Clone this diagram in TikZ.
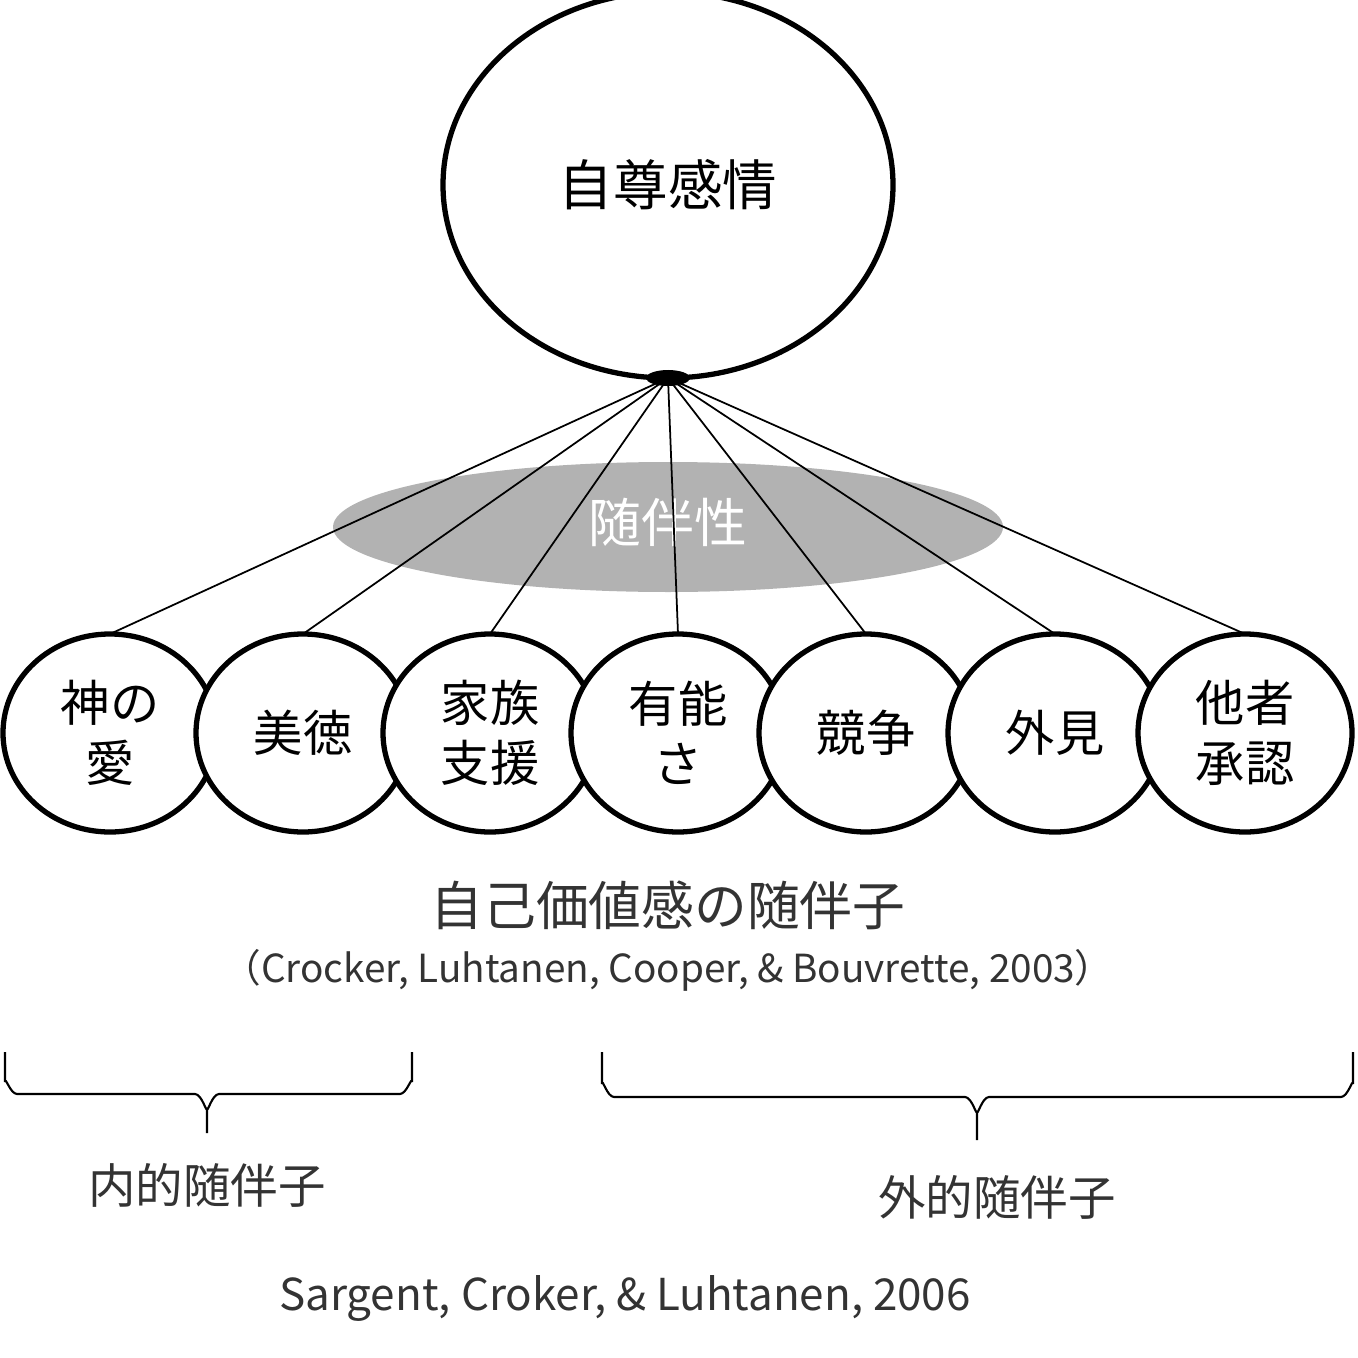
\documentclass[tikz,border=0pt]{standalone}
\usepackage{fontspec}
\setmainfont{Noto Sans CJK JP}
\begin{document}
\begin{tikzpicture}[x=0.01cm,y=-0.01cm,
  small/.style={draw,line width=1.3pt,fill=white,ellipse,minimum width=216\pgflinewidth},
  lbl/.style={font=\fontsize{14}{17}\selectfont,align=center,text=black}]
\useasboundingbox (0,0) rectangle (1358,1358);
\fill[gray!60] (668,527) ellipse [x radius=335, y radius=65];
\node[text=white,font=\fontsize{15}{18}\selectfont] (zui) at (668,522) {随伴性};
\draw[line width=1.5pt,fill=white] (668,185) ellipse [x radius=225, y radius=193];
\node[font=\fontsize{15.5}{18}\selectfont] (top) at (668,185) {自尊感情};
\coordinate (p) at (668,378);
\foreach \x/\t [count=\i] in {110/{神の\\愛},303/{美徳},490/{家族\\支援},678/{有能\\さ},866/{競争},1055/{外見},1245/{他者\\承認}}{
  \draw[line width=1.5pt,fill=white] (\x,733) ellipse [x radius=107, y radius=99];
  \node[lbl] (c\i) at (\x,733) {\t};
  \coordinate (t\i) at (\x,634);
  \draw[line width=0.5pt] (p) -- (t\i);
}
\fill (p) ellipse [x radius=22, y radius=8];
\node[font=\fontsize{15}{18}\selectfont,text=black!80] (h) at (668,905) {自己価値感の随伴子};
\node[font=\fontsize{11}{13}\selectfont,text=black!80] (cit) at (668,970) {（Crocker, Luhtanen, Cooper, \& Bouvrette, 2003）};
\draw[line width=0.6pt] (5,1052) -- (5,1082) to[out=90,in=180] (17,1094) -- (195,1094) to[out=0,in=-90] (207,1108) -- (207,1133);
\draw[line width=0.6pt] (412,1052) -- (412,1082) to[out=90,in=0] (400,1094) -- (219,1094) to[out=180,in=-90] (207,1108);
\draw[line width=0.6pt] (602,1052) -- (602,1084) to[out=90,in=180] (614,1097) -- (965,1097) to[out=0,in=-90] (977,1111) -- (977,1140);
\draw[line width=0.6pt] (1353,1052) -- (1353,1084) to[out=90,in=0] (1341,1097) -- (989,1097) to[out=180,in=-90] (977,1111);
\node[font=\fontsize{13.5}{16}\selectfont,text=black!80] (in) at (207,1185) {内的随伴子};
\node[font=\fontsize{13.5}{16}\selectfont,text=black!80] (out) at (997,1197) {外的随伴子};
\node[font=\fontsize{12.5}{15}\selectfont,text=black!80] (sg) at (625,1298) {Sargent, Croker, \& Luhtanen, 2006};
\end{tikzpicture}
\end{document}
